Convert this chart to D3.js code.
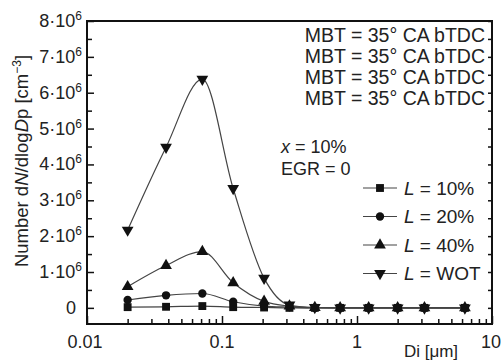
<!DOCTYPE html>
<html>
<head>
<meta charset="utf-8">
<script src="https://cdn.jsdelivr.net/npm/d3@7"></script>
<style>
  body { margin: 0; background: #fff; }
  svg text { font-family: "Liberation Sans", Arial, sans-serif; fill: #222; }
</style>
</head>
<body>
<div id="chart"></div>
<script>
// particle diameter (µm) and number concentration (units of 1e6 cm^-3)
const diameters = [0.02, 0.0385, 0.0715, 0.121, 0.205, 0.316, 0.487, 0.75, 1.22, 2.0, 3.16, 6.3];
const load10 = [0.02, 0.03, 0.05, 0.02, 0.01, 0, 0, 0, 0, 0, 0, 0];
const load20 = [0.22, 0.35, 0.40, 0.17, 0.05, 0.02, 0, 0, 0, 0, 0, 0];
const load40 = [0.59, 1.18, 1.57, 0.70, 0.18, 0.05, 0.01, 0, 0, 0, 0, 0];
const loadWOT = [2.17, 4.48, 6.38, 3.33, 0.83, 0.08, 0.01, 0, 0, 0, 0, 0];
const seriesLabels = ['10%', '20%', '40%', 'WOT'];
const yTicks = [0, 1, 2, 3, 4, 5, 6, 7, 8];
const xTicks = [0.01, 0.1, 1, 10];
const xTickLabels = ['0.01', '0.1', '1', '10'];
const notes = ['MBT = 35\u00B0 CA bTDC', 'MBT = 35\u00B0 CA bTDC', 'MBT = 35\u00B0 CA bTDC', 'MBT = 35\u00B0 CA bTDC'];

const width = 504, height = 360;
const plotL = 87, plotR = 492, plotT = 21, plotB = 324;

const svg = d3.select('#chart').append('svg')
  .attr('width', width)
  .attr('height', height);

const x = d3.scaleLog().domain([0.01, 10]).range([plotL, plotR]);
const y = d3.scaleLinear().domain([-0.45, 8]).range([plotB, plotT]);

// frame
svg.append('rect')
  .attr('x', plotL).attr('y', plotT)
  .attr('width', plotR - plotL).attr('height', plotB - plotT)
  .attr('fill', 'none').attr('stroke', '#111').attr('stroke-width', 2);

// inward ticks
const minorX = [];
for (let e = -2; e < 1; e++) for (let m = 2; m <= 9; m++) minorX.push(m * Math.pow(10, e));
const bottomMajor = svg.append('g').attr('transform', `translate(0,${plotB})`)
  .call(d3.axisBottom(x).tickValues(xTicks).tickSize(-8).tickFormat(''));
const bottomMinor = svg.append('g').attr('transform', `translate(0,${plotB})`)
  .call(d3.axisBottom(x).tickValues(minorX).tickSize(-5).tickFormat(''));

const yMinor = d3.range(0, 8, 0.5).filter(v => v % 1 !== 0);
const leftMajor = svg.append('g').attr('transform', `translate(${plotL},0)`)
  .call(d3.axisLeft(y).tickValues(yTicks).tickSize(-7).tickFormat(''));
const leftMinor = svg.append('g').attr('transform', `translate(${plotL},0)`)
  .call(d3.axisLeft(y).tickValues(yMinor).tickSize(-5).tickFormat(''));
const rightTicks = svg.append('g').attr('transform', `translate(${plotR},0)`)
  .call(d3.axisRight(y).tickValues(yTicks.concat(yMinor)).tickSize(-4).tickFormat(''));

[bottomMajor, bottomMinor, leftMajor, leftMinor, rightTicks].forEach(g => {
  g.select('.domain').remove();
  g.selectAll('line').attr('stroke', '#111').attr('stroke-width', 1.5);
});

// y tick labels
yTicks.forEach(v => {
  const t = svg.append('text')
    .attr('x', 82).attr('y', y(v) + 6)
    .attr('text-anchor', 'end')
    .style('font-size', '18px');
  if (v === 0) {
    t.attr('x', 76).text('0');
  } else {
    t.append('tspan').text(v + '\u00B710');
    t.append('tspan').attr('dy', -7).style('font-size', '12px').text('6');
  }
});

// x tick labels
xTicks.forEach((v, i) => {
  svg.append('text')
    .attr('x', x(v) - (i === 0 ? 2 : 0) - (i === 3 ? 1 : 0)).attr('y', 348)
    .attr('text-anchor', 'middle')
    .style('font-size', '18px')
    .text(xTickLabels[i]);
});

svg.append('text')
  .attr('x', 431).attr('y', 357)
  .attr('text-anchor', 'middle')
  .style('font-size', '17px')
  .text('Di [\u03BCm]');

// y axis title
const yt = svg.append('text')
  .attr('transform', 'translate(28,161) rotate(-90)')
  .attr('text-anchor', 'middle')
  .style('font-size', '18.5px');
yt.append('tspan').text('Number d');
yt.append('tspan').style('font-style', 'italic').text('N');
yt.append('tspan').text('/dlog');
yt.append('tspan').style('font-style', 'italic').text('D');
yt.append('tspan').text('p [cm');
yt.append('tspan').attr('dy', -7).style('font-size', '12px').text('\u22123');
yt.append('tspan').attr('dy', 7).text(']');

// series
const seriesData = [load10, load20, load40, loadWOT];
const symbols = [
  { type: d3.symbolSquare, size: 62, rot: 0 },
  { type: d3.symbolCircle, size: 55, rot: 0 },
  { type: d3.symbolTriangle, size: 60, rot: 0 },
  { type: d3.symbolTriangle, size: 60, rot: 180 }
];

const line = d3.line()
  .x((d, i) => x(diameters[i]))
  .y(d => y(d))
  .curve(d3.curveMonotoneX);

seriesData.forEach(values => {
  svg.append('path')
    .attr('d', line(values))
    .attr('fill', 'none')
    .attr('stroke', '#444')
    .attr('stroke-width', 1.2);
});

seriesData.forEach((values, s) => {
  const sym = symbols[s];
  svg.selectAll(null)
    .data(values)
    .enter()
    .append('path')
    .attr('d', d3.symbol(sym.type, sym.size))
    .attr('transform', (d, i) => `translate(${x(diameters[i])},${y(d)}) rotate(${sym.rot})`)
    .attr('fill', '#111');
});

// notes top right
notes.forEach((n, i) => {
  svg.append('text')
    .attr('x', 485).attr('y', 41.5 + i * 21.3)
    .attr('text-anchor', 'end')
    .style('font-size', '19.5px')
    .text(n);
});

const cond = svg.append('text').attr('x', 281).attr('y', 153).style('font-size', '18px');
cond.append('tspan').style('font-style', 'italic').text('x');
cond.append('tspan').text(' = 10%');
svg.append('text').attr('x', 281).attr('y', 175).style('font-size', '18px').text('EGR = 0');

// legend
const legend = svg.append('g');
seriesLabels.forEach((lab, i) => {
  const cy = 188 + i * 28.5;
  legend.append('line')
    .attr('x1', 363).attr('x2', 397).attr('y1', cy).attr('y2', cy)
    .attr('stroke', '#444').attr('stroke-width', 1.2);
  legend.append('path')
    .attr('d', d3.symbol(symbols[i].type, symbols[i].size))
    .attr('transform', `translate(380,${cy}) rotate(${symbols[i].rot})`)
    .attr('fill', '#111');
  const t = legend.append('text').attr('x', 404).attr('y', cy + 6.5).style('font-size', '19px');
  t.append('tspan').style('font-style', 'italic').text('L');
  t.append('tspan').text(' = ' + lab);
});
</script>
</body>
</html>
